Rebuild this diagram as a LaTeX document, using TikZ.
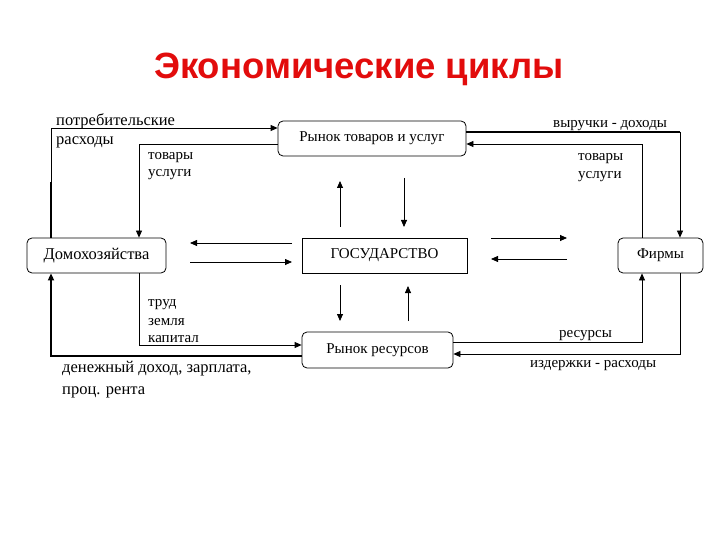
\documentclass[tikz,border=0pt]{standalone}
\usepackage{fontspec}
\setmainfont{Liberation Serif}
\newfontfamily\titlefont{Liberation Sans}
\usetikzlibrary{arrows.meta}
\definecolor{titlered}{RGB}{226,12,12}
\begin{document}
\begin{tikzpicture}[x=1pt,y=-1pt,
  rbox/.style={draw, line width=0.8pt, rounded corners=5pt, inner sep=0pt, font=\fontsize{15}{15}\selectfont},
  sbox/.style={draw, line width=0.8pt, inner sep=0pt, font=\fontsize{15}{15}\selectfont},
  lbl/.style={anchor=base west, inner sep=0pt, font=\fontsize{15}{15}\selectfont},
  big/.style={font=\fontsize{16.5}{16.5}\selectfont},
  arr/.style={line width=0.8pt, -{Triangle[length=7pt,width=6pt]}},
  thk/.style={line width=2pt}]
\useasboundingbox (0,0) rectangle (720,540);
\node[font=\titlefont\bfseries\fontsize{36.5}{36.5}\selectfont, text=titlered] (title) at (359,69) {Экономические циклы};

\node[rbox, big, minimum width=139pt, minimum height=35pt] (hh) at (96.5,255.5) {Домохозяйства};
\node[rbox, minimum width=188pt, minimum height=35pt] (gm) at (372,138.5) {Рынок товаров и услуг};
\node[sbox, minimum width=165pt, minimum height=35pt] (gov) at (384.5,255.5) {ГОСУДАРСТВО};
\node[rbox, minimum width=85pt, minimum height=35pt] (fm) at (660.5,255.5) {Фирмы};
\node[rbox, minimum width=151pt, minimum height=36pt] (rm) at (377.5,350) {Рынок ресурсов};

% guide coordinates
\coordinate (xl) at (51,128);
\coordinate (xl2) at (51,182);
\coordinate (xi) at (139,144);
\coordinate (xr) at (680,132);
\coordinate (xf) at (642,144);
\coordinate (yr1) at (642,342);
\coordinate (yr2) at (680,354);
\coordinate (yh1) at (139,345);
\coordinate (yh2) at (51,356);

% household <-> goods market
\draw[arr] (hh.north -| xl) -- (xl) -- (gm.west |- xl);
\draw[thk] (hh.north -| xl) -- (xl2);
\draw[arr] (gm.west |- xi) -- (xi) -- (hh.north -| xi);
% goods market <-> firms
\draw[thk] (gm.east |- xr) -- (xr);
\draw[arr] (xr) -- (fm.north -| xr);
\draw[arr] (fm.north -| xf) -- (xf) -- (gm.east |- xf);
% resource market <-> firms
\draw[arr] (rm.east |- yr1) -- (yr1) -- (fm.south -| yr1);
\draw[arr] (fm.south -| yr2) -- (yr2) -- (rm.east |- yr2);
% household <-> resource market
\draw[arr] (hh.south -| yh1) -- (yh1) -- (rm.west |- yh1);
\draw[thk] (rm.west |- yh2) -- (yh2) -- (51,290);
\draw[arr, line width=2pt] (yh2) -- (hh.south -| yh2);

% government arrows
\coordinate (g1a) at (292,243); \coordinate (g1b) at (190,243);
\coordinate (g2a) at (190,262); \coordinate (g2b) at (292,262);
\coordinate (g3a) at (491,238); \coordinate (g3b) at (567,238);
\coordinate (g4a) at (567,259); \coordinate (g4b) at (491,259);
\coordinate (g5a) at (340,227); \coordinate (g5b) at (340,181);
\coordinate (g6a) at (404,178); \coordinate (g6b) at (404,227);
\coordinate (g7a) at (340,285); \coordinate (g7b) at (340,321);
\coordinate (g8a) at (408,321); \coordinate (g8b) at (408,286);
\draw[arr] (g1a) -- (g1b);
\draw[arr] (g2a) -- (g2b);
\draw[arr] (g3a) -- (g3b);
\draw[arr] (g4a) -- (g4b);
\draw[arr] (g5a) -- (g5b);
\draw[arr] (g6a) -- (g6b);
\draw[arr] (g7a) -- (g7b);
\draw[arr] (g8a) -- (g8b);

% labels
\node[lbl, big] (l1) at (56,126) {потребительские};
\node[lbl, big] (l2) at (56,145) {расходы};
\node[lbl] (l3) at (148,160) {товары};
\node[lbl] (l4) at (148,177) {услуги};
\node[lbl] (l5) at (553,128) {выручки - доходы};
\node[lbl] (l6) at (578,161) {товары};
\node[lbl] (l7) at (578,179) {услуги};
\node[lbl] (l8) at (148,306) {труд};
\node[lbl] (l9) at (148,325) {земля};
\node[lbl] (l10) at (148,342) {капитал};
\node[lbl, big] (l11) at (62,372) {денежный доход, зарплата,};
\node[lbl, big] (l12) at (62,394) {проц. рента};
\node[lbl] (l13) at (559,337) {ресурсы};
\node[lbl] (l14) at (530,367) {издержки - расходы};
\end{tikzpicture}
\end{document}
